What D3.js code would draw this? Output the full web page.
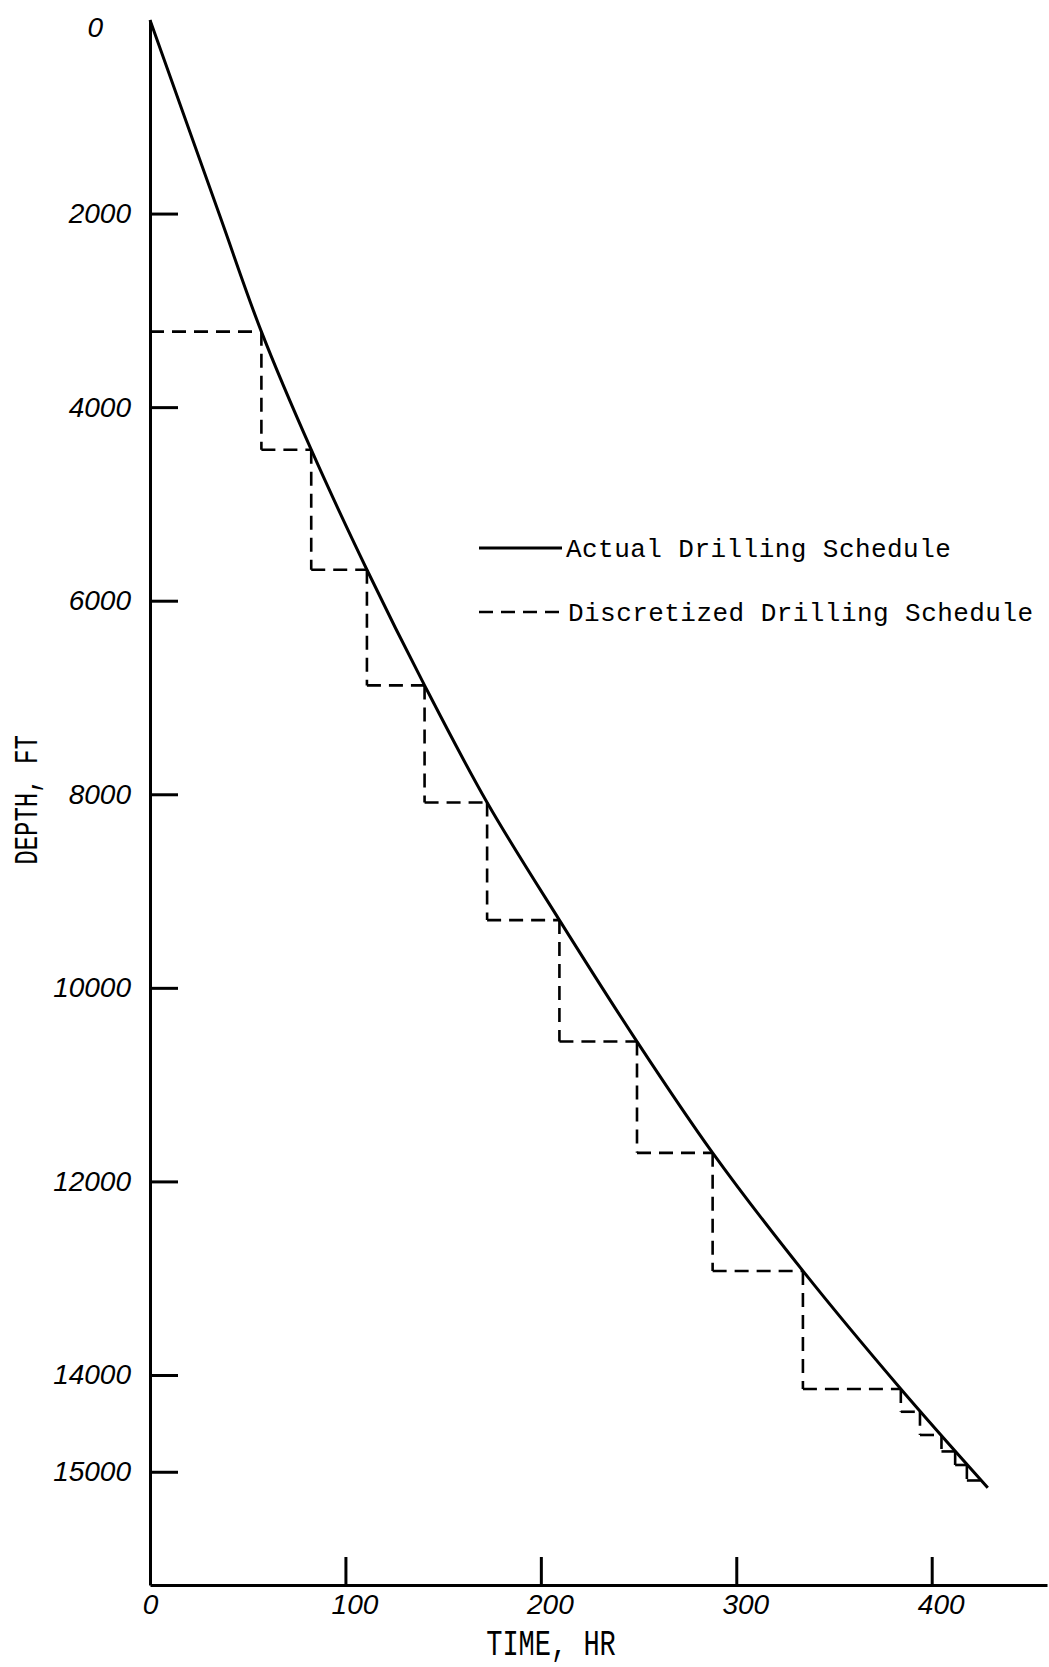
<html>
<head>
<meta http-equiv="Content-Type" content="text/html; charset=utf-8">
<title></title>
<style>
body{ margin:0; background:#fff; }
.axis path, .axis line{ stroke:#000; stroke-width:3px; }
.axis text{ font-family:"Liberation Sans", "DejaVu Sans", sans-serif; font-style:italic; font-size:28px; fill:#000; }
.actual{ fill:none; stroke:#000; stroke-width:3px; }
.discrete{ fill:none; stroke:#000; stroke-width:2.6px; stroke-dasharray:14,8; }
.typed{ font-family:"Liberation Mono", "DejaVu Sans Mono", monospace; fill:#000; }
</style>
<script src="https://d3js.org/d3.v7.min.js" charset="utf-8"></script>
</head>
<body>
<div id="chart"></div>
<script>
// actual drilling schedule (time in hr, depth in ft)
var curveTime  = [0, 35.5, 57, 82.5, 111, 140.5, 172.5, 209.5, 249.2, 287.9, 334.1, 384.2, 428.7];
var curveDepth = [0, 2010, 3220, 4440, 5680, 6875, 8085, 9300, 10555, 11705, 12925, 14145, 15165];

// discretized schedule: corner points of the staircase
var stepTime  = [57, 82.5, 111, 140.5, 172.5, 209.5, 249.2, 287.9, 334.1, 384.2, 394, 405, 412, 418, 425];
var stepDepth = [3220, 4440, 5680, 6875, 8085, 9300, 10555, 11705, 12925, 14145, 14380, 14620, 14790, 14930, 15090];

var depthTicks = [0, 2000, 4000, 6000, 8000, 10000, 12000, 14000, 15000];
var timeTicks = [0, 100, 200, 300, 400];

var width = 1049, height = 1667;
var x = d3.scaleLinear().domain([0, 459]).range([150, 1047]);
var y = d3.scaleLinear().domain([0, 16170]).range([20, 1585]);

var svg = d3.select('#chart').append('svg')
	.attr('width', width)
	.attr('height', height);

// axes, ticks pointing into the plot
var yAxis = svg.append('g')
	.attr('class', 'axis')
	.attr('transform', 'translate(' + x(0) + ',0)')
	.call(d3.axisLeft(y).tickValues(depthTicks).tickSizeInner(-28).tickSizeOuter(0).tickPadding(19).tickFormat(d3.format('d')));
yAxis.selectAll('.tick').filter(function(d){ return d === 0; }).select('line').remove();
yAxis.selectAll('.tick').filter(function(d){ return d === 0; }).select('text').attr('x', -47).attr('dy', '0.6em');

var xAxis = svg.append('g')
	.attr('class', 'axis')
	.attr('transform', 'translate(0,' + y.range()[1] + ')')
	.call(d3.axisBottom(x).tickValues(timeTicks).tickSizeInner(-28).tickSizeOuter(0).tickPadding(9).tickFormat(d3.format('d')));
xAxis.selectAll('.tick').filter(function(d){ return d === 0; }).select('line').remove();
xAxis.selectAll('.tick text').attr('dx', function(d){ return d === 0 ? 0 : 9; });

// actual schedule
var pts = curveTime.map(function(t, i){ return {time:t, depth:curveDepth[i]}; });
var line = d3.line()
	.curve(d3.curveCatmullRom.alpha(0.5))
	.x(function(d){ return x(d.time); })
	.y(function(d){ return y(d.depth); });
svg.append('path').datum(pts).attr('class', 'actual').attr('d', line);

// discretized staircase, one segment at a time so every corner starts with a dash
var segs = [];
stepTime.forEach(function(t, i){
	var t0 = i === 0 ? 0 : stepTime[i - 1];
	segs.push({x1:t0, y1:stepDepth[i], x2:t, y2:stepDepth[i]});
	if(i < stepTime.length - 1){
		segs.push({x1:t, y1:stepDepth[i], x2:t, y2:stepDepth[i + 1]});
	}
});
svg.selectAll('.discrete').data(segs).enter().append('line')
	.attr('class', 'discrete')
	.attr('x1', function(d){ return x(d.x1); })
	.attr('y1', function(d){ return y(d.y1); })
	.attr('x2', function(d){ return x(d.x2); })
	.attr('y2', function(d){ return y(d.y2); });

// legend
svg.append('line').attr('class', 'actual').attr('x1', 479).attr('x2', 562).attr('y1', 548).attr('y2', 548);
svg.append('line').attr('class', 'discrete').attr('x1', 479).attr('x2', 562).attr('y1', 612).attr('y2', 612);
svg.append('text').attr('class', 'typed').attr('x', 566).attr('y', 557)
	.style('font-size', '26px').style('letter-spacing', '0.45px').text('Actual Drilling Schedule');
svg.append('text').attr('class', 'typed').attr('x', 568).attr('y', 621)
	.style('font-size', '26px').style('letter-spacing', '0.45px').text('Discretized Drilling Schedule');

// axis titles
svg.append('text').attr('class', 'typed')
	.attr('transform', 'translate(551,1655) scale(1,1.35)')
	.attr('text-anchor', 'middle')
	.style('font-size', '27px')
	.text('TIME, HR');
svg.append('text').attr('class', 'typed')
	.attr('transform', 'translate(37,800) rotate(-90) scale(1,1.35)')
	.attr('text-anchor', 'middle')
	.style('font-size', '24px')
	.text('DEPTH, FT');
</script>
</body>
</html>
